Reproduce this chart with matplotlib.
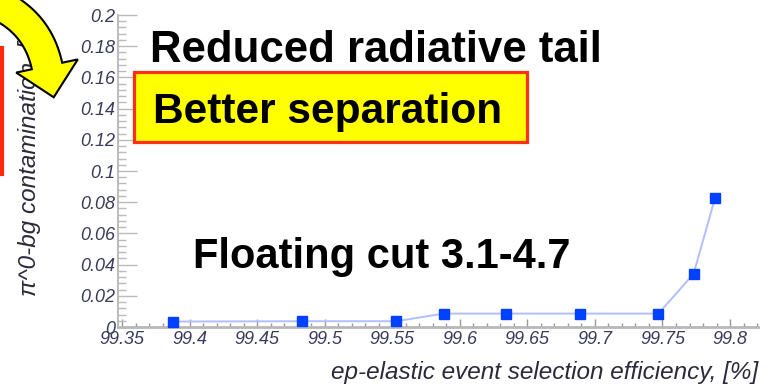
import matplotlib
matplotlib.use('Agg')
import matplotlib.pyplot as plt
import numpy as np
from matplotlib.patches import Rectangle, Polygon
from matplotlib.transforms import IdentityTransform
from matplotlib.ticker import MultipleLocator, FormatStrFormatter

# data
eff = [99.388, 99.483, 99.553, 99.588, 99.634, 99.689, 99.747, 99.773, 99.789]
contam = [0.0035, 0.0037, 0.0037, 0.0086, 0.0086, 0.0086, 0.0086, 0.034, 0.083]

xlabel = 'ep-elastic event selection efficiency, [%]'
ylabel = 'π^0-bg contamination, [%]'
note_top = 'Reduced radiative tail'
note_box = 'Better separation'
note_cut = 'Floating cut 3.1-4.7'

W, H = 784, 388
fig = plt.figure(figsize=(W / 100, H / 100), dpi=100)

def fx(px):
    return px / W

def fy(py):
    # py measured from the top of the picture
    return 1 - py / H

ax = fig.add_axes([fx(118), fy(327), fx(758) - fx(118), fy(15) - fy(327)])
ax.plot(eff, contam, '-', color='#b3beff', lw=1.4, zorder=2)
ax.plot(eff, contam, 's', color='#0040ff', ms=6.5, mec='#0040ff', zorder=3, clip_on=False)

ax.set_xlim(99.347, 99.8207)
ax.set_ylim(0, 0.2)
ax.xaxis.set_major_locator(MultipleLocator(0.05))
ax.xaxis.set_minor_locator(MultipleLocator(0.01))
ax.yaxis.set_major_locator(MultipleLocator(0.02))
ax.yaxis.set_minor_locator(MultipleLocator(0.004))
ax.xaxis.set_major_formatter(FormatStrFormatter('%g'))
ax.yaxis.set_major_formatter(FormatStrFormatter('%g'))

for s in ['top', 'right']:
    ax.spines[s].set_visible(False)
ax.spines['left'].set_color('#b0b0b0')
ax.spines['left'].set_linewidth(1.2)
ax.spines['bottom'].set_color('#b8b8b8')
ax.spines['bottom'].set_linewidth(2)

tick_col = '#3a3a5c'
ax.tick_params(axis='x', which='major', direction='in', length=6, width=1, color='#999999', pad=3)
ax.tick_params(axis='x', which='minor', direction='in', length=3, width=1, color='#999999')
ax.tick_params(axis='y', which='major', direction='in', length=14, width=1, color='#bbbbbb', pad=2)
ax.tick_params(axis='y', which='minor', direction='in', length=6, width=1, color='#bbbbbb')
for lab in ax.get_xticklabels() + ax.get_yticklabels():
    lab.set_fontstyle('italic')
    lab.set_fontsize(13)
    lab.set_color(tick_col)
    lab.set_family('Liberation Sans')

fig.text(fx(758), fy(379), xlabel, ha='right', va='baseline', fontsize=17.5,
         style='italic', color='#2a2a3a', family='Liberation Sans')
fig.text(fx(30), fy(13), ylabel, ha='center', va='top', rotation=90, fontsize=17.5,
         style='italic', color='#2a2a3a', family='Liberation Sans')

# red box edge on the left border
fig.add_artist(Rectangle((fx(-40), fy(174)), fx(42), fy(48) - fy(174), transform=fig.transFigure,
                         facecolor='white', edgecolor='#ff2a10', lw=3))

# yellow box
fig.add_artist(Rectangle((fx(133.5), fy(141.5)), fx(526.5) - fx(133.5), fy(72.5) - fy(141.5),
                         transform=fig.transFigure, facecolor='#ffff00', edgecolor='#ff3010', lw=2.3))

fig.text(fx(150), fy(62), note_top, fontsize=31.5, weight='bold', family='Liberation Sans',
         ha='left', va='baseline')
fig.text(fx(153), fy(123), note_box, fontsize=30.6, weight='bold', family='Liberation Sans',
         ha='left', va='baseline')
fig.text(fx(193), fy(268), note_cut, fontsize=30, weight='bold', family='Liberation Sans',
         ha='left', va='baseline')

# curved yellow arrow (block arrow built along a bezier centre line, pixel coords from top-left)
p0 = np.array([-30.0, -5.0])
c = np.array([35.0, 10.0])
p1 = np.array([47.0, 66.0])
t = np.linspace(0, 1, 40)[:, None]
centre = (1 - t) ** 2 * p0 + 2 * (1 - t) * t * c + t ** 2 * p1
tang = 2 * (1 - t) * (c - p0) + 2 * t * (p1 - c)
tang = tang / np.linalg.norm(tang, axis=1)[:, None]
norm = np.column_stack([tang[:, 1], -tang[:, 0]])
half_body, half_head, head_len = 15.5, 31.5, 32.0
outer = centre + half_body * norm
inner = centre - half_body * norm
tip = p1 + head_len * tang[-1]
shape = np.vstack([outer, p1 + half_head * norm[-1], tip, p1 - half_head * norm[-1], inner[::-1]])
shape[:, 1] = H - shape[:, 1]
fig.add_artist(Polygon(shape, closed=True, transform=IdentityTransform(), zorder=10,
                       facecolor='#ffff00', edgecolor='black', lw=1.5, joinstyle='miter'))

fig.savefig('out.png', dpi=100)
